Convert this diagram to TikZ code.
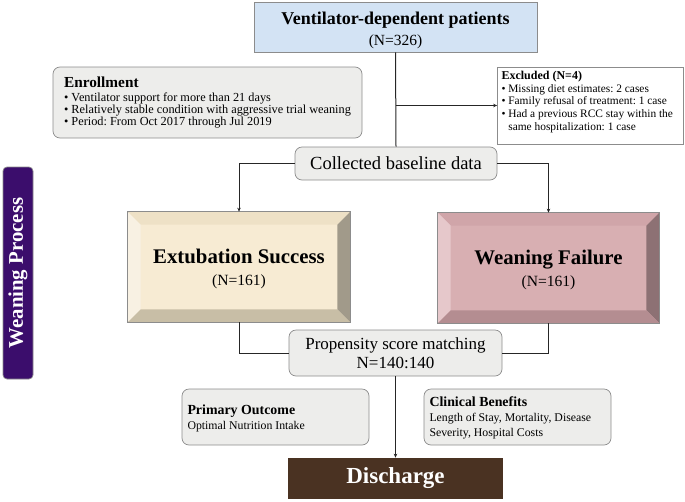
\documentclass[tikz,border=0pt]{standalone}
\usepackage{fontspec}
\setmainfont{Liberation Serif}
\usetikzlibrary{arrows.meta}
\frenchspacing

\definecolor{boxline}{HTML}{8C8C8C}
\definecolor{skyfill}{HTML}{D3E3F4}
\definecolor{greyfill}{HTML}{EDEDEB}
\definecolor{creamfill}{HTML}{F7EBD3}
\definecolor{creamtop}{HTML}{EEE1C6}
\definecolor{creamleft}{HTML}{F8F1E3}
\definecolor{creamright}{HTML}{A19A8A}
\definecolor{creambot}{HTML}{C8BEA6}
\definecolor{rosefill}{HTML}{D8AFB2}
\definecolor{rosetop}{HTML}{D0A5A9}
\definecolor{roseleft}{HTML}{E6C8CB}
\definecolor{roseright}{HTML}{8D7174}
\definecolor{rosebot}{HTML}{B48D91}
\definecolor{purplebar}{HTML}{3B0D6C}
\definecolor{woodbrown}{HTML}{4A3222}

\begin{document}
\begin{tikzpicture}[x=1pt,y=-1pt,
    box/.style = {draw=boxline, line width=0.7pt, inner sep=0pt, align=center},
    roundbox/.style = {box, rounded corners=7pt, fill=greyfill},
    bevelbox/.style = {box, minimum width=222pt, minimum height=110pt,
                       font=\fontsize{15.6}{22.5}\selectfont},
    link/.style = {line width=1pt, draw=black!85},
    arrow/.style = {link, -{Stealth[length=4pt,width=3.5pt]}}]

  \useasboundingbox (0,0) rectangle (685,501);

  % top of the flow
  \node[box, fill=skyfill, minimum width=283pt, minimum height=50pt,
        font=\fontsize{15.5}{21}\selectfont] (pat) at (395.5,27)
    {\rule{0pt}{19pt}{\fontsize{18}{20}\selectfont\bfseries Ventilator-dependent patients}\\
     (N=326)};

  \node[roundbox, minimum width=309pt, minimum height=71pt, align=left,
        font=\fontsize{12.3}{12.3}\selectfont] (enroll) at (207.5,102.5)
    {{\fontsize{15.3}{16}\selectfont\bfseries Enrollment}\\[2pt]
     \textbullet\ Ventilator support for more than 21 days\\
     \textbullet\ Relatively stable condition with aggressive trial weaning\\
     \textbullet\ Period: From Oct 2017 through Jul 2019};

  \node[box, fill=white, inner sep=4pt, align=left] (excl) at (590.5,105.5)
    {\parbox[c][69pt][t]{178pt}{\raggedright\fontsize{11.4}{12.8}\selectfont
     {\fontsize{12}{13}\selectfont\bfseries Excluded (N=4)}\\
     \textbullet\ Missing diet estimates: 2 cases\\
     \textbullet\ Family refusal of treatment: 1 case\\
     \textbullet\ Had a previous RCC stay within the\\
     \phantom{\textbullet\ }same hospitalization: 1 case}};

  \node[roundbox, minimum width=202pt, minimum height=33pt,
        font=\fontsize{18.5}{20}\selectfont] (coll) at (396,163.5) {Collected baseline data};

  % the two groups
  \node[bevelbox, fill=creamfill] (succ) at (239,267)
    {\rule{0pt}{18pt}{\fontsize{20.8}{23}\selectfont\bfseries Extubation Success}\\
     (N=161)};
  \node[bevelbox, fill=rosefill, minimum width=221pt] (fail) at (548.5,268)
    {\rule{0pt}{18pt}{\fontsize{20.8}{23}\selectfont\bfseries Weaning Failure}\\
     (N=161)};

  \foreach \n/\ct/\cl/\cr/\cb in {succ/creamtop/creamleft/creamright/creambot,
                                  fail/rosetop/roseleft/roseright/rosebot} {
    \fill[\ct] (\n.north west) -- (\n.north east)
      -- ([shift={(-13pt,-13pt)}]\n.north east) -- ([shift={(13pt,-13pt)}]\n.north west) -- cycle;
    \fill[\cl] (\n.north west) -- ([shift={(13pt,-13pt)}]\n.north west)
      -- ([shift={(13pt,13pt)}]\n.south west) -- (\n.south west) -- cycle;
    \fill[\cr] (\n.north east) -- (\n.south east)
      -- ([shift={(-13pt,13pt)}]\n.south east) -- ([shift={(-13pt,-13pt)}]\n.north east) -- cycle;
    \fill[\cb] (\n.south west) -- ([shift={(13pt,13pt)}]\n.south west)
      -- ([shift={(-13pt,13pt)}]\n.south east) -- (\n.south east) -- cycle;
    \draw[boxline, line width=0.7pt] (\n.north west) rectangle (\n.south east);
  }

  \node[box, rounded corners=4pt, fill=purplebar, text=white, rotate=90,
        minimum width=212pt, minimum height=30pt,
        font=\fontsize{20.8}{22}\selectfont\bfseries] (side) at (18,273) {Weaning Process};

  \node[roundbox, minimum width=213pt, minimum height=46pt,
        font=\fontsize{17}{19}\selectfont] (psm) at (395.5,353)
    {Propensity score matching\\N=140:140};

  % outcomes
  \node[roundbox, minimum width=187pt, minimum height=56pt, align=left] (prim) at (275.5,417)
    {\parbox{176pt}{\fontsize{11.8}{15}\selectfont\rule{0pt}{13pt}%
     {\fontsize{13.9}{15}\selectfont\bfseries Primary Outcome}\\
     Optimal Nutrition Intake}};
  \node[roundbox, minimum width=187pt, minimum height=56pt, align=left] (clin) at (517.5,417)
    {\parbox{176pt}{\fontsize{11.8}{15}\selectfont\rule{0pt}{12pt}%
     {\fontsize{13.9}{15}\selectfont\bfseries Clinical Benefits}\\
     Length of Stay, Mortality, Disease\\
     Severity, Hospital Costs}};

  \node[box, draw=none, fill=woodbrown, text=white, minimum width=215pt, minimum height=41pt,
        font=\fontsize{23}{25}\selectfont\bfseries] (dis) at (395.5,478.5) {Discharge};

  % connectors
  \draw[link] (pat.south) -- (coll.north);
  \draw[arrow] (pat.south |- excl.west) -- (excl.west);
  \draw[arrow] (coll.west) -| (succ.north);
  \draw[arrow] (coll.east) -| (fail.north);
  \draw[link] (succ.south) |- (psm.west);
  \draw[link] (fail.south) |- (psm.east);
  \draw[arrow] (psm.south) -- (dis.north);
\end{tikzpicture}
\end{document}
